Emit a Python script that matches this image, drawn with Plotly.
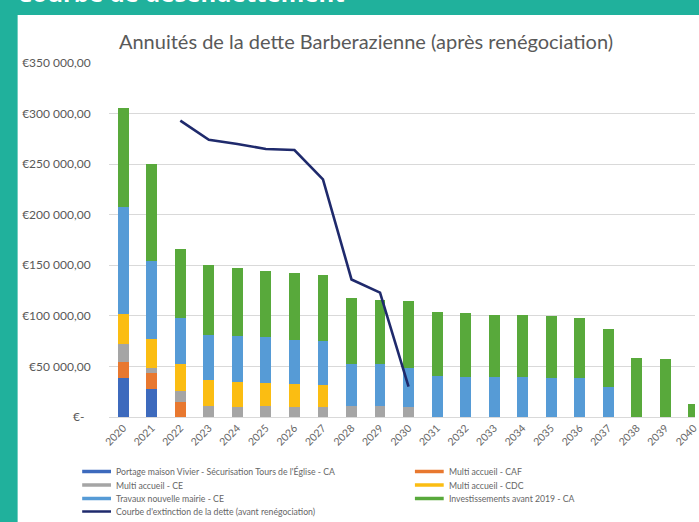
import plotly.graph_objects as go

years = [str(y) for y in range(2020, 2041)]

portage = [38400, 27900, 0, 0, 0, 0, 0, 0, 0, 0, 0, 0, 0, 0, 0, 0, 0, 0, 0, 0, 0]
multi_caf = [15800, 15400, 14600, 0, 0, 0, 0, 0, 0, 0, 0, 0, 0, 0, 0, 0, 0, 0, 0, 0, 0]
multi_ce = [18200, 5300, 11600, 10400, 9700, 10400, 9700, 9700, 10400, 10400, 9700,
            0, 0, 0, 0, 0, 0, 0, 0, 0, 0]
multi_cdc = [29600, 28700, 26400, 25700, 24700, 23400, 23100, 22400, 0, 0, 0,
             0, 0, 0, 0, 0, 0, 0, 0, 0, 0]
mairie = [106000, 76700, 45400, 45200, 45200, 45100, 43600, 42900, 42200, 42200, 38900,
          41000, 39700, 39400, 39400, 38800, 38800, 29500, 0, 0, 0]
invest = [97700, 96300, 67900, 68500, 67900, 65600, 66300, 65700, 64900, 63300, 65900,
          62600, 62900, 61900, 61300, 60600, 59300, 57700, 58100, 56900, 13000]

line_years = [str(y) for y in range(2022, 2031)]
line_vals = [293000, 274000, 270000, 265000, 264000, 235000, 136000, 123000, 30000]

series_names = [
    "Portage maison Vivier - Sécurisation Tours de l'Église - CA",
    "Multi accueil - CAF",
    "Multi accueil - CE",
    "Multi accueil - CDC",
    "Travaux nouvelle mairie - CE",
    "Investissements avant 2019 - CA",
]
line_name = "Courbe d'extinction de la dette (avant renégociation)"
series_values = [portage, multi_caf, multi_ce, multi_cdc, mairie, invest]
series_colors = ["#3d6abd", "#e8782f", "#a5a5a5", "#fbbd12", "#569bd6", "#58a93b"]
line_color = "#1f2a6c"

ytick_vals = [0, 50000, 100000, 150000, 200000, 250000, 300000, 350000]
ytick_text = ["€-\u00a0\u00a0", "€50 000,00", "€100 000,00", "€150 000,00", "€200 000,00",
              "€250 000,00", "€300 000,00", "€350 000,00"]

title_text = "Annuités de la dette Barberazienne (après renégociation)"
header_text = "Courbe de désendettement"

W, H = 699, 522
ML, MR, MT, MB = 109, 0, 63, 105
PW, PH = W - ML - MR, H - MT - MB


def px(x):
    return (x - ML) / PW


def py(y):
    return (H - MB - y) / PH


fig = go.Figure()
for name, vals, col in zip(series_names, series_values, series_colors):
    fig.add_trace(go.Bar(x=years, y=vals, name=name, marker=dict(color=col, line=dict(width=0)),
                         showlegend=False, hoverinfo="skip"))

fig.add_trace(go.Scatter(x=line_years, y=line_vals, mode="lines", name=line_name,
                         line=dict(color=line_color, width=2.6), showlegend=False,
                         hoverinfo="skip"))

shapes = []
# white panel
shapes.append(dict(type="rect", xref="paper", yref="paper", x0=px(17), x1=px(W + 20),
                   y0=py(H + 20), y1=py(15), fillcolor="white", line=dict(width=0),
                   layer="below"))

annotations = []
annotations.append(dict(text="<b>" + header_text + "</b>", xref="paper", yref="paper",
                        x=px(14), y=py(11), xanchor="left", yanchor="bottom",
                        showarrow=False, font=dict(family="Open Sans", size=24, color="white")))

# manual legend (Excel-style two columns)
legend_items = list(zip(series_names, series_colors, [3.5] * 6)) + [(line_name, line_color, 2.5)]
col_x = [82, 417]
row_y = [471.5, 485, 498.5, 511.5]
for i, (name, col, w) in enumerate(legend_items):
    c = i % 2
    r = i // 2
    x0 = col_x[c]
    y0 = row_y[r]
    shapes.append(dict(type="line", xref="paper", yref="paper", x0=px(x0), x1=px(x0 + 29),
                       y0=py(y0), y1=py(y0), line=dict(color=col, width=w)))
    annotations.append(dict(text=name, xref="paper", yref="paper", x=px(x0 + 32), y=py(y0),
                            xanchor="left", yanchor="middle", showarrow=False,
                            font=dict(family="Lato", size=8.7, color="#666666")))

fig.update_layout(
    width=W, height=H,
    margin=dict(l=ML, r=MR, t=MT, b=MB, pad=0),
    paper_bgcolor="#20b19c",
    plot_bgcolor="rgba(0,0,0,0)",
    barmode="stack",
    bargap=0.62,
    showlegend=False,
    title=dict(text=title_text, x=366 / W, xref="container", xanchor="center",
               y=1 - 42 / H, yref="container", yanchor="middle",
               font=dict(family="Lato", size=20, color="#595959")),
    xaxis=dict(type="category", range=[-0.5, 20.04], tickangle=-45, showgrid=False,
               tickfont=dict(family="Lato", size=10.5, color="#666666"),
               showline=True, linecolor="#d9d9d9", linewidth=1, ticks="", fixedrange=True),
    yaxis=dict(range=[0, 350000], tickvals=ytick_vals, ticktext=ytick_text,
               showgrid=True, gridcolor="#d9d9d9", gridwidth=1, zeroline=False,
               ticks="outside", ticklen=15, tickcolor="rgba(0,0,0,0)",
               tickfont=dict(family="Lato", size=12, color="#595959"), fixedrange=True),
    shapes=shapes,
    annotations=annotations,
    font=dict(family="Lato"),
)

fig.write_html("out.html",
               config={"displayModeBar": False, "staticPlot": True},
               post_script="document.body.style.margin='0';document.body.style.overflow='hidden';")
